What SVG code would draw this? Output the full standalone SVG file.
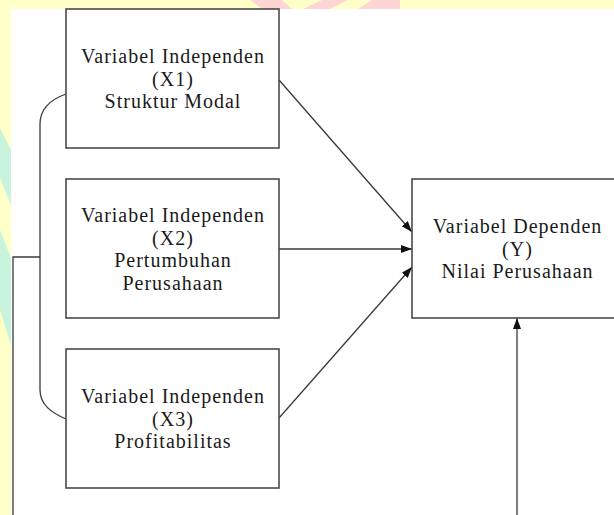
<svg xmlns="http://www.w3.org/2000/svg" width="614" height="515" viewBox="0 0 614 515">
  <style>
    .box { fill: #ffffff; stroke: #4a4a4a; stroke-width: 1.6; }
    .lbl { font-family: "Liberation Serif", "Times New Roman", serif; font-size: 20px; letter-spacing: 1px; fill: #1a1a1a; text-anchor: middle; }
    .con { fill: none; stroke: #3a3a3a; stroke-width: 1.3; }
  </style>
  <defs>
    <marker id="ah" markerUnits="userSpaceOnUse" markerWidth="12" markerHeight="10" refX="11" refY="4" orient="auto">
      <path d="M0,0 L11,4 L0,8 Z" fill="#111"/>
    </marker>
  </defs>

  <g id="background">
    <rect x="0" y="0" width="614" height="515" fill="#ffffc8"/>
    <polygon points="250,0 282,0 292,9 262,9" fill="#ffd4d4"/>
    <polygon points="322,0 348,0 330,9 303,9" fill="#ffd4d4"/>
    <polygon points="372,0 400,0 400,9 358,9" fill="#ffd4d4"/>
    <polygon points="0,128 11,150 11,205 0,178" fill="#c8f3dc"/>
    <polygon points="0,230 11,258 11,345 0,310" fill="#c8f3dc"/>
    <rect x="11" y="9" width="603" height="506" fill="#ffffff"/>
  </g>

  <g id="connectors">
    <path class="con" d="M66,94 C52,99 40,108 40,124 L40,390 C40,405 52,413 66,419"/>
    <path class="con" d="M40,257 L13,257 L13,515"/>
    <line class="con" x1="279" y1="80" x2="412" y2="232" marker-end="url(#ah)"/>
    <line class="con" x1="279" y1="249" x2="412" y2="249" marker-end="url(#ah)"/>
    <line class="con" x1="279" y1="418" x2="412" y2="267" marker-end="url(#ah)"/>
    <line class="con" x1="517" y1="515" x2="517" y2="318" marker-end="url(#ah)"/>
  </g>

  <g id="node-x1">
    <rect class="box" x="66" y="9" width="213" height="139"/>
    <text class="lbl" x="173" y="63">Variabel Independen</text>
    <text class="lbl" x="173" y="86">(X1)</text>
    <text class="lbl" x="173" y="108">Struktur Modal</text>
  </g>

  <g id="node-x2">
    <rect class="box" x="66" y="179" width="213" height="139"/>
    <text class="lbl" x="173" y="222">Variabel Independen</text>
    <text class="lbl" x="173" y="244.5">(X2)</text>
    <text class="lbl" x="173" y="267">Pertumbuhan</text>
    <text class="lbl" x="173" y="289.5">Perusahaan</text>
  </g>

  <g id="node-x3">
    <rect class="box" x="66" y="349" width="213" height="139"/>
    <text class="lbl" x="173" y="403">Variabel Independen</text>
    <text class="lbl" x="173" y="426">(X3)</text>
    <text class="lbl" x="173" y="448">Profitabilitas</text>
  </g>

  <g id="node-y">
    <rect class="box" x="412" y="179" width="212" height="139"/>
    <text class="lbl" x="517.5" y="233">Variabel Dependen</text>
    <text class="lbl" x="517.5" y="256">(Y)</text>
    <text class="lbl" x="517.5" y="278">Nilai Perusahaan</text>
  </g>
</svg>
